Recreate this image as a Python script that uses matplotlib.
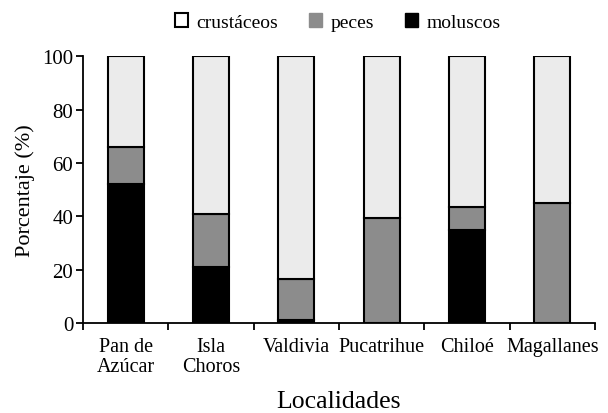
#!/usr/bin/env python3

import numpy as np
import matplotlib
matplotlib.use("Agg")
import matplotlib.pyplot as plt
from matplotlib.patches import Patch

plt.rcParams['font.family'] = ['Liberation Serif', 'DejaVu Serif']

localidades = ["Pan de\nAzúcar", "Isla\nChoros", "Valdivia", "Pucatrihue", "Chiloé", "Magallanes"]
moluscos   = np.array([52, 21, 1.4, 0, 35, 0])
peces      = np.array([14, 20, 15, 39.5, 8.5, 45])
crustaceos = 100 - moluscos - peces

C_CRU = "#ebebeb"
C_PEC = "#8c8c8c"
C_MOL = "#000000"

def plot():
    fig = plt.figure(figsize=(6.08, 4.14), dpi=100)
    ax = fig.add_axes([0.1365, 0.2167, 0.842, 0.645])

    x = np.arange(len(localidades))
    w = 0.42
    kw = dict(width=w, edgecolor="black", linewidth=1.5)
    ax.bar(x, moluscos, color=C_MOL, **kw)
    ax.bar(x, peces, bottom=moluscos, color=C_PEC, **kw)
    ax.bar(x, crustaceos, bottom=moluscos + peces, color=C_CRU, **kw)

    ax.set_xlim(-0.5, len(localidades) - 0.5)
    ax.set_ylim(0, 100)
    ax.set_yticks(np.arange(0, 101, 20))
    ax.set_xticks(x)
    ax.set_xticklabels(localidades, fontsize=14.5, linespacing=1.05)
    ax.set_xticks(np.arange(-0.5, len(localidades)), minor=True)
    ax.tick_params(axis="x", which="major", length=0, pad=10)
    ax.tick_params(axis="x", which="minor", length=5, width=1.3, direction="out")
    ax.tick_params(axis="y", length=5, width=1.3, direction="out", labelsize=15, pad=2)

    for s in ["top", "right"]:
        ax.spines[s].set_visible(False)
    for s in ["left", "bottom"]:
        ax.spines[s].set_linewidth(1.3)

    ax.set_ylabel("Porcentaje (%)", fontsize=16, labelpad=5)
    ax.set_xlabel("Localidades", fontsize=18.5, labelpad=10)

    handles = [
        Patch(facecolor="white", edgecolor="black", linewidth=1.5, label="crustáceos"),
        Patch(facecolor=C_PEC, edgecolor=C_PEC, label="peces"),
        Patch(facecolor=C_MOL, edgecolor=C_MOL, label="moluscos"),
    ]
    fig.legend(handles=handles, loc="center", bbox_to_anchor=(0.555, 0.945), ncol=3,
               frameon=False, fontsize=14, handlelength=0.7, handleheight=0.7,
               handletextpad=0.4, columnspacing=1.6)

    fig.savefig("out.png", dpi=100)

if __name__ == "__main__":
    plot()
